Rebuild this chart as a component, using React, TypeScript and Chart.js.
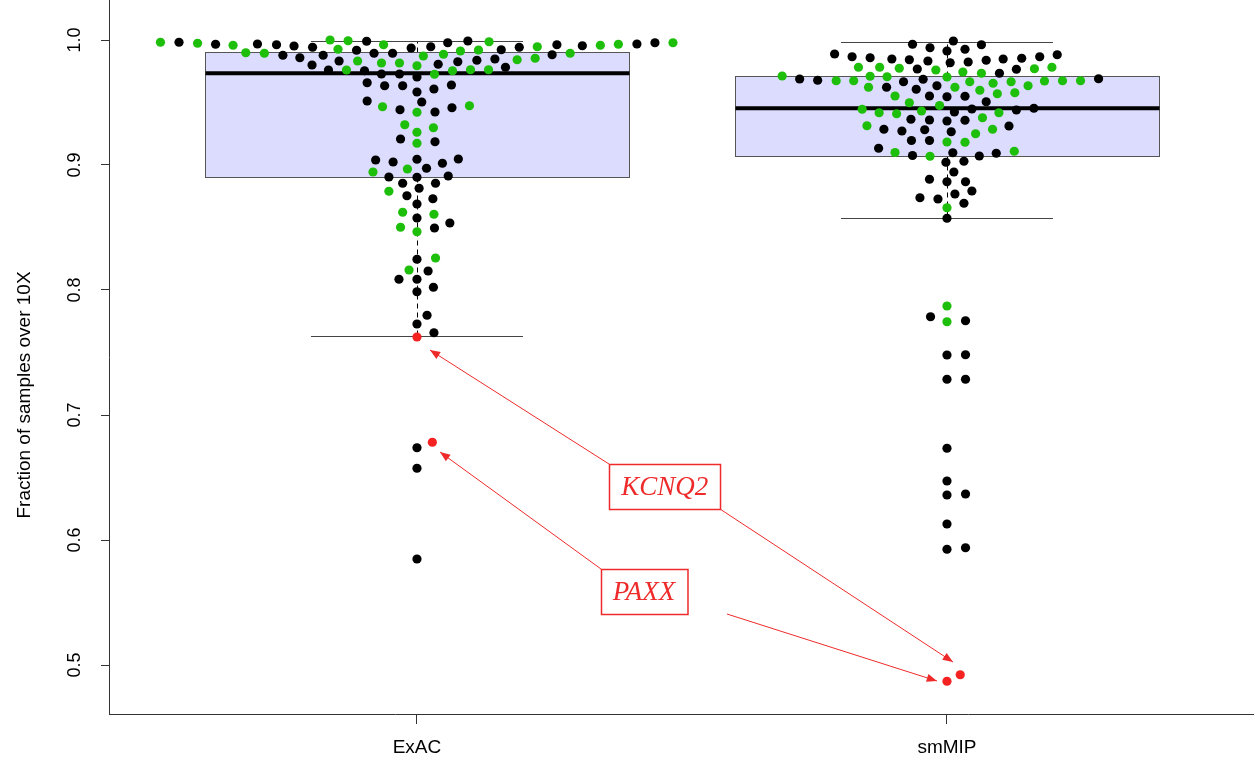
import React, { useEffect, useRef } from "react";
import { Chart, registerables } from "chart.js";

Chart.register(...registerables);

// ---------- data ----------
const categories = ["ExAC", "smMIP"];
const yTickValues = [0.5, 0.6, 0.7, 0.8, 0.9, 1.0];
const yTitle = "Fraction of samples over 10X";

// boxplot statistics per category
const boxQ1 = [0.8904, 0.9072];
const boxMedian = [0.9734, 0.9454];
const boxQ3 = [0.9906, 0.9712];
const whiskerLow = [0.7632, 0.8574];
const whiskerHigh = [0.9994, 0.9986];

// ExAC: values, beeswarm offsets (category units), colour codes (G green, K black, R red)
const exacValues = [
  0.9982, 0.9982, 0.9974, 0.9966, 0.9958, 0.9968, 0.9962, 0.9952, 0.9942, 1.0,
  0.9994, 0.999, 0.9962, 0.9936, 0.9946, 0.9978, 0.9992, 0.9986, 0.9922, 0.9942,
  0.9946, 0.9962, 0.9954, 0.9958, 0.9966, 0.9968, 0.9978, 0.9978, 0.9898, 0.9894,
  0.9878, 0.9858, 0.9878, 0.9926, 0.9918, 0.9894, 0.9894, 0.9872, 0.9886, 0.9912,
  0.992, 0.9842, 0.9854, 0.9882, 0.9894, 0.98, 0.9832, 0.9832, 0.9816, 0.9816,
  0.9794, 0.9806, 0.9826, 0.9838, 0.9848, 0.9782, 0.976, 0.976, 0.9754, 0.9728,
  0.9728, 0.9704, 0.9726, 0.9754, 0.9762, 0.9762, 0.9658, 0.9634, 0.9634, 0.964,
  0.9608, 0.9584, 0.9512, 0.9504, 0.9466, 0.9442, 0.9422, 0.9424, 0.9458, 0.9474,
  0.9322, 0.9262, 0.9298, 0.9208, 0.9174, 0.9186, 0.904, 0.9024, 0.9046, 0.9014,
  0.9048, 0.8944, 0.8968, 0.8974, 0.8904, 0.8902, 0.8912, 0.8854, 0.8814, 0.8854,
  0.879, 0.8754, 0.873, 0.8688, 0.8622, 0.8606, 0.8576, 0.8502, 0.8496, 0.8536,
  0.8466, 0.8246, 0.8256, 0.816, 0.8152, 0.8086, 0.8086, 0.7986, 0.8022, 0.7798,
  0.7728, 0.7624, 0.7658, 0.6738, 0.6782, 0.6574, 0.5848,
];
const exacOffsets = [
  -0.484, -0.449, -0.414, -0.38, -0.347, -0.301, -0.265, -0.232, -0.197, -0.164,
  -0.13, -0.095, -0.063, -0.011, 0.026, 0.058, 0.096, 0.136, 0.159, 0.193,
  0.227, 0.264, 0.312, 0.346, 0.38, 0.415, 0.449, 0.483, -0.323, -0.288,
  -0.253, -0.221, -0.177, -0.149, -0.114, -0.081, -0.046, 0.012, 0.05, 0.082,
  0.116, 0.189, 0.223, 0.255, 0.289, -0.198, -0.147, -0.112, -0.067, -0.033,
  0, 0.04, 0.077, 0.113, 0.147, 0.167, -0.167, -0.133, -0.099, -0.067,
  -0.033, 0, 0.033, 0.067, 0.101, 0.135, -0.094, -0.061, -0.027, 0.065,
  0.032, 0, -0.094, 0.009, -0.065, -0.032, 0, 0.034, 0.066, 0.099,
  -0.023, 0, 0.031, -0.031, 0, 0.034, -0.078, -0.045, 0, 0.048,
  0.078, -0.083, -0.018, 0.018, -0.053, 0, 0.059, -0.027, 0.004, 0.035,
  -0.053, -0.019, 0.03, 0, -0.027, 0.032, 0, -0.031, 0.033, 0.062,
  0, 0, 0.035, -0.015, 0.021, -0.034, 0, 0, 0.031, 0.019,
  0, 0, 0.032, 0, 0.029, 0, 0,
];
const exacColorCodes =
  "GKGKGKKKKG" + "GKGKKKKGKK" + "GKKGGKKGGG" + "KKKGKKKGGG" + "GGGKGKKGGG" +
  "GKKKKKKGKK" + "KKGGGGKKKK" + "KKKKGKGKKG" + "GGGKGKKKKK" + "KGGKKKKKKK" +
  "GKKKGGKGKK" + "GKGGKKKKKK" + "KRKKRKK";

// smMIP
const smmipValues = [
  0.9966, 0.9938, 0.9912, 0.9992, 0.9926, 0.9962, 0.9888, 0.9866, 0.9858, 0.9848,
  0.9842, 0.9832, 0.9818, 0.9824, 0.9838, 0.9848, 0.9854, 0.9866, 0.9882, 0.9782,
  0.9782, 0.9774, 0.9768, 0.976, 0.9744, 0.9734, 0.9734, 0.9766, 0.977, 0.9782,
  0.9712, 0.9688, 0.9678, 0.9674, 0.9674, 0.971, 0.9706, 0.9666, 0.9686, 0.9704,
  0.9666, 0.9654, 0.9666, 0.9634, 0.9672, 0.9674, 0.9674, 0.969, 0.9622, 0.9622,
  0.9606, 0.9634, 0.9622, 0.9598, 0.957, 0.9578, 0.9552, 0.9552, 0.9546, 0.955,
  0.9506, 0.9498, 0.9476, 0.9446, 0.9418, 0.941, 0.9432, 0.9424, 0.9448, 0.9418,
  0.944, 0.9454, 0.9366, 0.936, 0.9352, 0.9358, 0.9378, 0.9314, 0.9286, 0.9272,
  0.9282, 0.9266, 0.925, 0.9286, 0.9312, 0.9196, 0.9196, 0.9184, 0.9182, 0.9134,
  0.91, 0.9076, 0.907, 0.9098, 0.9072, 0.9094, 0.911, 0.9022, 0.903, 0.8944,
  0.8886, 0.8866, 0.8866, 0.8792, 0.8738, 0.8728, 0.8768, 0.8694, 0.8658, 0.8574,
  0.7872, 0.7786, 0.7746, 0.7754, 0.748, 0.7482, 0.7286, 0.7286, 0.6734, 0.6472,
  0.636, 0.6368, 0.6128, 0.5926, 0.5938, 0.487, 0.4922,
];
const smmipOffsets = [
  -0.065, -0.032, 0, 0.012, 0.034, 0.065, -0.212, -0.179, -0.145, -0.104,
  -0.071, -0.036, 0.006, 0.04, 0.074, 0.106, 0.141, 0.175, 0.208, -0.167,
  -0.127, -0.09, -0.056, -0.021, 0.03, 0.065, 0.099, 0.131, 0.165, 0.198,
  -0.311, -0.278, -0.244, -0.209, -0.176, -0.145, -0.113, -0.082, -0.045, 0,
  0.043, 0.087, 0.121, 0.153, 0.184, 0.218, 0.252, 0.286, -0.148, -0.114,
  -0.058, -0.019, 0.015, 0.062, 0.095, 0.128, -0.098, -0.033, 0, 0.034,
  0.074, -0.071, -0.014, -0.16, -0.128, -0.095, -0.048, 0.014, 0.047, 0.098,
  0.131, 0.164, -0.068, -0.033, 0, 0.034, 0.067, -0.151, -0.119, -0.085,
  -0.042, 0.008, 0.054, 0.086, 0.117, -0.067, -0.033, 0, 0.034, -0.129,
  -0.098, -0.065, -0.032, 0.011, 0.061, 0.093, 0.127, -0.002, 0.032, 0.013,
  -0.033, 0, 0.035, 0.047, -0.051, -0.017, 0.015, 0.032, 0, 0,
  0, -0.031, 0, 0.035, 0, 0.035, 0, 0.035, 0, 0,
  0, 0.035, 0, 0, 0.035, 0, 0.025,
];
const smmipColorCodes =
  "KKKKKKKKKK" + "KKKKKKKKKG" + "GGKGGGKKGG" + "GKKGGGGKKG" + "GGGGGGGKGK" +
  "KKGGGGGKKK" + "KGGGGGGKKG" + "KKKKKKGGKK" + "KKGGKKKGGK" + "GKGKKKGKKK" +
  "KKKKKKKKGK" + "GKGKKKKKKK" + "KKKKKRR";

// annotations (data coordinates)
const annotationLabels = ["KCNQ2", "PAXX"];
const annotationLabelX = [1.4675, 1.4283];
const annotationLabelY = [0.6426, 0.5588];
const arrowStartX = [1.3623, 1.5717, 1.3472, 1.5849];
const arrowStartY = [0.6608, 0.6248, 0.5768, 0.5408];
const arrowEndX = [1.0245, 2.0113, 1.0434, 1.9811];
const arrowEndY = [0.752, 0.5024, 0.6704, 0.4872];

// ---------- styles ----------
const COLORS: Record<string, string> = { G: "#1ebf0a", K: "#000000", R: "#f52222" };
const BOX_FILL = "#dcdcff";
const AXIS_COLOR = "#333333";
const ANN_RED = "#ee2a2a";
const SANS = '"Liberation Sans", Arial, sans-serif';

const groups = [
  { values: exacValues, offsets: exacOffsets, codes: exacColorCodes },
  { values: smmipValues, offsets: smmipOffsets, codes: smmipColorCodes },
];

const boxPlugin = {
  id: "boxes",
  beforeDatasetsDraw(chart: any) {
    const { ctx, scales } = chart;
    const x = scales.x;
    const y = scales.y;
    ctx.save();
    categories.forEach((_, i) => {
      const c = i + 1;
      const xl = Math.round(x.getPixelForValue(c - 0.4)) + 0.5;
      const xr = Math.round(x.getPixelForValue(c + 0.4)) + 0.5;
      const wl = x.getPixelForValue(c - 0.2);
      const wr = x.getPixelForValue(c + 0.2);
      const xc = Math.round(x.getPixelForValue(c)) + 0.5;
      const yq1 = Math.round(y.getPixelForValue(boxQ1[i])) + 0.5;
      const yq3 = Math.round(y.getPixelForValue(boxQ3[i])) + 0.5;
      const ym = y.getPixelForValue(boxMedian[i]);
      const yl = Math.round(y.getPixelForValue(whiskerLow[i])) + 0.5;
      const yh = Math.round(y.getPixelForValue(whiskerHigh[i])) + 0.5;

      ctx.strokeStyle = "#000";
      ctx.lineWidth = 1;
      ctx.setLineDash([5, 4]);
      ctx.beginPath();
      ctx.moveTo(xc, yq3);
      ctx.lineTo(xc, yh);
      ctx.moveTo(xc, yq1);
      ctx.lineTo(xc, yl);
      ctx.stroke();
      ctx.setLineDash([]);

      ctx.strokeStyle = "#444";
      ctx.beginPath();
      ctx.moveTo(wl, yh);
      ctx.lineTo(wr, yh);
      ctx.moveTo(wl, yl);
      ctx.lineTo(wr, yl);
      ctx.stroke();

      ctx.fillStyle = BOX_FILL;
      ctx.fillRect(xl, yq3, xr - xl, yq1 - yq3);
      ctx.strokeStyle = "#555";
      ctx.strokeRect(xl, yq3, xr - xl, yq1 - yq3);

      ctx.strokeStyle = "#000";
      ctx.lineWidth = 4;
      ctx.beginPath();
      ctx.moveTo(xl, ym);
      ctx.lineTo(xr, ym);
      ctx.stroke();
    });
    ctx.restore();
  },
};

const annotationPlugin = {
  id: "annotations",
  afterDatasetsDraw(chart: any) {
    const { ctx, scales } = chart;
    const x = scales.x;
    const y = scales.y;
    ctx.save();
    ctx.strokeStyle = ANN_RED;
    ctx.fillStyle = ANN_RED;
    ctx.lineWidth = 1;
    arrowStartX.forEach((_, i) => {
      const sx = x.getPixelForValue(arrowStartX[i]);
      const sy = y.getPixelForValue(arrowStartY[i]);
      const ex = x.getPixelForValue(arrowEndX[i]);
      const ey = y.getPixelForValue(arrowEndY[i]);
      ctx.beginPath();
      ctx.moveTo(sx, sy);
      ctx.lineTo(ex, ey);
      ctx.stroke();
      const a = Math.atan2(ey - sy, ex - sx);
      const len = 11;
      const spread = 0.38;
      ctx.beginPath();
      ctx.moveTo(ex, ey);
      ctx.lineTo(ex - len * Math.cos(a - spread), ey - len * Math.sin(a - spread));
      ctx.lineTo(ex - len * Math.cos(a + spread), ey - len * Math.sin(a + spread));
      ctx.closePath();
      ctx.fill();
    });
    ctx.font = 'italic 27px "Liberation Serif", "Times New Roman", serif';
    ctx.textAlign = "center";
    ctx.textBaseline = "middle";
    annotationLabels.forEach((label, i) => {
      const cx = x.getPixelForValue(annotationLabelX[i]);
      const cy = y.getPixelForValue(annotationLabelY[i]);
      const w = ctx.measureText(label).width + 24;
      const h = 45;
      const bx = Math.round(cx - w / 2) + 0.5;
      const by = Math.round(cy - h / 2) + 0.5;
      ctx.fillStyle = "#fff";
      ctx.fillRect(bx, by, w, h);
      ctx.lineWidth = 1.5;
      ctx.strokeStyle = ANN_RED;
      ctx.strokeRect(bx, by, w, h);
      ctx.fillStyle = ANN_RED;
      ctx.fillText(label, cx, cy + 1);
    });
    ctx.restore();
  },
};

const axisTextPlugin = {
  id: "axisText",
  afterDraw(chart: any) {
    const { ctx } = chart;
    const y = chart.scales.y;
    ctx.save();
    ctx.fillStyle = "#000";
    ctx.textAlign = "center";
    ctx.textBaseline = "middle";
    ctx.font = `18px ${SANS}`;
    yTickValues.forEach((v) => {
      const py = y.getPixelForValue(v);
      ctx.save();
      ctx.translate(y.right - 34, py);
      ctx.rotate(-Math.PI / 2);
      ctx.fillText(v.toFixed(1), 0, 0);
      ctx.restore();
    });
    // axis title
    ctx.font = `19px ${SANS}`;
    ctx.save();
    ctx.translate(y.left + 25, y.getPixelForValue(0.716));
    ctx.rotate(-Math.PI / 2);
    ctx.fillText(yTitle, 0, 0);
    ctx.restore();
    ctx.restore();
  },
};

export default function App() {
  const canvasRef = useRef<HTMLCanvasElement | null>(null);

  useEffect(() => {
    if (!canvasRef.current) return;
    const datasets = groups.map((g, gi) => ({
      label: categories[gi],
      data: g.values.map((v, k) => ({ x: gi + 1 + g.offsets[k], y: v })),
      backgroundColor: g.codes.split("").map((c) => COLORS[c]),
      pointBackgroundColor: g.codes.split("").map((c) => COLORS[c]),
      pointRadius: 4.6,
      pointBorderWidth: 0,
      borderWidth: 0,
      showLine: false,
    }));

    const chart = new Chart(canvasRef.current, {
      type: "scatter",
      data: { datasets },
      options: {
        animation: false,
        responsive: false,
        maintainAspectRatio: false,
        layout: { padding: 0, autoPadding: false },
        plugins: { legend: { display: false }, tooltip: { enabled: false } },
        scales: {
          x: {
            type: "linear",
            min: 0.4189,
            max: 2.5793,
            afterBuildTicks: (s: any) => {
              s.ticks = categories.map((_, i) => ({ value: i + 1 }));
            },
            afterFit: (s: any) => {
              s.height = 50;
            },
            ticks: {
              callback: (v: any) => categories[Math.round(v) - 1] ?? "",
              font: { family: SANS, size: 19 },
              color: "#000",
              padding: 12,
              maxRotation: 0,
              autoSkip: false,
            },
            grid: { drawOnChartArea: false, drawTicks: true, tickLength: 10, color: AXIS_COLOR },
            border: { display: true, color: AXIS_COLOR, width: 1 },
          },
          y: {
            type: "linear",
            min: 0.4608,
            max: 1.032,
            afterBuildTicks: (s: any) => {
              s.ticks = yTickValues.map((v) => ({ value: v }));
            },
            afterFit: (s: any) => {
              s.width = 109;
            },
            ticks: { display: false },
            grid: { drawOnChartArea: false, drawTicks: true, tickLength: 8, color: AXIS_COLOR },
            border: { display: true, color: AXIS_COLOR, width: 1 },
          },
        },
      },
      plugins: [boxPlugin, annotationPlugin, axisTextPlugin],
    });
    return () => chart.destroy();
  }, []);

  return (
    <div style={{ position: "fixed", left: 0, top: 0, width: 1254, height: 764, background: "#fff" }}>
      <canvas ref={canvasRef} width={1254} height={764} style={{ display: "block" }} />
    </div>
  );
}
